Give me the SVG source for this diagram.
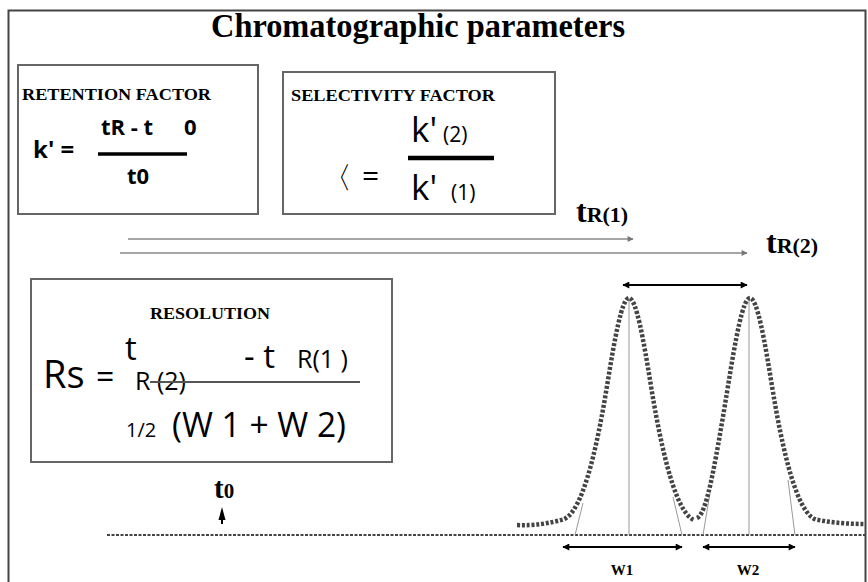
<svg xmlns="http://www.w3.org/2000/svg" width="868" height="582" viewBox="0 0 868 582">
<defs>
<style>
.ser{font-family:"Liberation Serif","Times New Roman",serif;font-weight:bold;fill:#000}
.sans{font-family:"Open Sans","Noto Sans","DejaVu Sans",sans-serif;fill:#000}
.b{font-weight:bold}
.box{fill:#fff;stroke:#666;stroke-width:2}
.bar{stroke:#000;fill:none}
.garrow{stroke:#888;stroke-width:1.5;fill:none}
.karrow{stroke:#000;stroke-width:2;fill:none}
.thin{stroke:#999;stroke-width:1;fill:none}
.peak{stroke:#444;stroke-width:4.5;stroke-dasharray:3 1.8;fill:none}
.base{stroke:#444;stroke-width:2;stroke-dasharray:3 1.5;fill:none}
</style>
<marker id="ga" viewBox="0 0 10 10" refX="9" refY="5" markerWidth="8" markerHeight="6" markerUnits="userSpaceOnUse" orient="auto">
<path d="M0,0 L10,5 L0,10 z" fill="#777"/>
</marker>
<marker id="ka" viewBox="0 0 10 10" refX="9" refY="5" markerWidth="10" markerHeight="7" markerUnits="userSpaceOnUse" orient="auto-start-reverse">
<path d="M0,0 L10,5 L0,10 z" fill="#000"/>
</marker>
</defs>
<rect width="868" height="582" fill="#fff"/>
<rect x="8.5" y="10.5" width="857" height="580" fill="none" stroke="#444" stroke-width="2"/>

<g id="title">
<text class="ser" x="418" y="37" font-size="33" text-anchor="middle" textLength="414" lengthAdjust="spacingAndGlyphs">Chromatographic parameters</text>
</g>

<g id="retention">
<rect class="box" x="18" y="65" width="240" height="149"/>
<text class="ser" x="22" y="100" font-size="17" textLength="189" lengthAdjust="spacingAndGlyphs">RETENTION FACTOR</text>
<text class="sans b" x="33" y="158" font-size="24">k' =</text>
<text class="sans b" x="101" y="135" font-size="22">tR - t</text>
<text class="sans b" x="184" y="135" font-size="22">0</text>
<line class="bar" x1="98" y1="154" x2="187" y2="154" stroke-width="3.5"/>
<text class="sans b" x="127" y="184" font-size="22">t0</text>
</g>

<g id="selectivity">
<rect class="box" x="283" y="72" width="272" height="142"/>
<text class="ser" x="291" y="101" font-size="17" textLength="204" lengthAdjust="spacingAndGlyphs">SELECTIVITY FACTOR</text>
<text class="sans" x="411" y="142" font-size="35">k'</text>
<text class="sans" x="443" y="142" font-size="21">(2)</text>
<line class="bar" x1="408" y1="158" x2="494" y2="158" stroke-width="4.5"/>
<text class="sans" x="322" y="188" font-size="30">〈</text>
<text class="sans" x="362" y="186" font-size="30">=</text>
<text class="sans" x="411" y="200" font-size="35">k'</text>
<text class="sans" x="451" y="200" font-size="21">(1)</text>
</g>

<g id="resolution">
<rect class="box" x="31" y="279" width="361" height="183"/>
<text class="ser" x="150" y="319" font-size="17" textLength="120" lengthAdjust="spacingAndGlyphs">RESOLUTION</text>
<text class="sans" x="43" y="388" font-size="38">Rs</text>
<text class="sans" x="96" y="388" font-size="32">=</text>
<text class="sans" x="125" y="360" font-size="33">t</text>
<text class="sans" x="135" y="390" font-size="25">R (2)</text>
<text class="sans" x="244" y="368" font-size="33">- t</text>
<text class="sans" x="297" y="368" font-size="25">R(1 )</text>
<line x1="150" y1="382" x2="360" y2="382" stroke="#555" stroke-width="2"/>
<text class="sans" x="126" y="437" font-size="20">1/2</text>
<text class="sans" x="172" y="437" font-size="34" textLength="174" lengthAdjust="spacingAndGlyphs">(W 1 + W 2)</text>
</g>

<g id="labels">
<text class="ser" x="576" y="222" font-size="32">t<tspan font-size="22">R(1)</tspan></text>
<text class="ser" x="766" y="253" font-size="32">t<tspan font-size="22">R(2)</tspan></text>
<text class="ser" x="214" y="498" font-size="29">t<tspan font-size="21">0</tspan></text>
<text class="ser" x="622" y="575" font-size="15" text-anchor="middle">W1</text>
<text class="ser" x="748" y="575" font-size="15" text-anchor="middle">W2</text>
</g>

<g id="chromatogram">
<line class="base" x1="107" y1="535" x2="866" y2="535"/>
<line class="thin" x1="629" y1="298" x2="629" y2="535"/>
<line class="thin" x1="749" y1="298" x2="749" y2="535"/>
<line class="thin" x1="575" y1="535" x2="583" y2="503"/>
<line class="thin" x1="682" y1="535" x2="673" y2="497"/>
<line class="thin" x1="703" y1="535" x2="710" y2="493"/>
<line class="thin" x1="795" y1="535" x2="788" y2="480"/>
<path class="peak" d="M517,525 C535,526 550,523 563,519.5 C577.7,514.6 592.3,476.7 607,386.1 C614.3,340.9 621.7,298 629,298 C636.3,298 643.7,340.9 651,386.1 C665.7,476.7 680.3,514.6 694,520"/>
<path class="peak" d="M697,518 C706,514 713.3,476.7 728,386.1 C735.3,340.9 742.7,298 750,298 C757.3,298 764.7,340.9 772,386.1 C786.7,476.7 801.3,514.6 816,519.5 C833,523 850,524 866,524"/>
</g>

<g id="connectors">
<line class="garrow" x1="128" y1="239" x2="633" y2="239" marker-end="url(#ga)"/>
<line class="garrow" x1="120" y1="253" x2="747" y2="253" marker-end="url(#ga)"/>
<line class="karrow" x1="623" y1="285" x2="747" y2="285" marker-start="url(#ka)" marker-end="url(#ka)"/>
<line class="karrow" x1="563" y1="547" x2="682" y2="547" marker-start="url(#ka)" marker-end="url(#ka)"/>
<line class="karrow" x1="703" y1="547" x2="795" y2="547" marker-start="url(#ka)" marker-end="url(#ka)"/>
<polygon points="222,507 218.5,520 225.5,520" fill="#000"/>
<line x1="222" y1="518" x2="222" y2="524" stroke="#000" stroke-width="2"/>
</g>
</svg>
